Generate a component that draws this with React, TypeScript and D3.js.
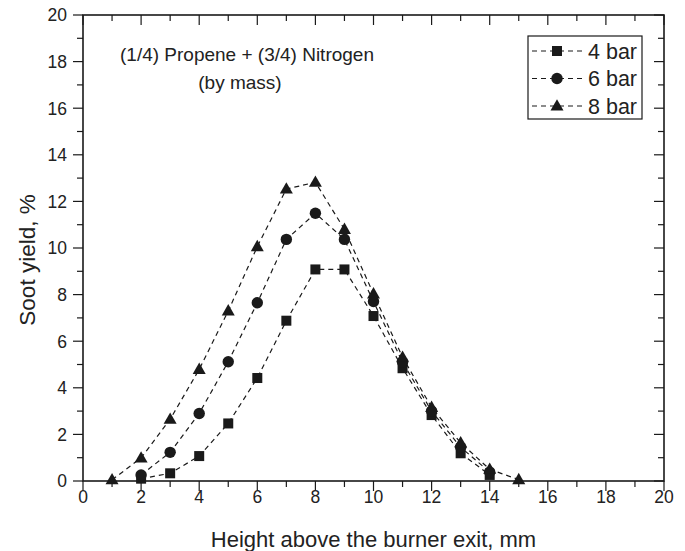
import React from "react";
import * as d3 from "d3";

const xValues4 = [2, 3, 4, 5, 6, 7, 8, 9, 10, 11, 12, 13, 14];
const yield4bar = [0.1, 0.33, 1.07, 2.47, 4.42, 6.88, 9.08, 9.08, 7.08, 4.84, 2.83, 1.19, 0.26];
const xValues6 = [2, 3, 4, 5, 6, 7, 8, 9, 10, 11, 12, 13, 14];
const yield6bar = [0.26, 1.23, 2.9, 5.12, 7.65, 10.37, 11.49, 10.37, 7.7, 5.1, 3.0, 1.45, 0.38];
const xValues8 = [1, 2, 3, 4, 5, 6, 7, 8, 9, 10, 11, 12, 13, 14, 15];
const yield8bar = [0.05, 0.99, 2.65, 4.79, 7.3, 10.06, 12.53, 12.82, 10.8, 8.03, 5.31, 3.16, 1.64, 0.5, 0.06];
const seriesNames = ["4 bar", "6 bar", "8 bar"];
const seriesSymbols = ["square", "circle", "triangle"];
const xTicks = [0, 2, 4, 6, 8, 10, 12, 14, 16, 18, 20];
const yTicks = [0, 2, 4, 6, 8, 10, 12, 14, 16, 18, 20];
const minorTicks = d3.range(0, 21, 1);

const W = 685, H = 551;
const L = 83, R = 664, T = 15, B = 481;
const FONT = "Liberation Sans, Arial, sans-serif";

function Marker({ type, x, y }: { type: string; x: number; y: number }) {
  if (type === "square") return <rect x={x - 5} y={y - 5} width={10} height={10} fill="#1a1a1a" />;
  if (type === "circle") return <circle cx={x} cy={y} r={5.7} fill="#1a1a1a" />;
  const s = 13;
  const h = s * 0.87;
  return (
    <path
      d={`M${x},${y - h * 0.6}L${x + s / 2},${y + h * 0.4}L${x - s / 2},${y + h * 0.4}Z`}
      fill="#1a1a1a"
    />
  );
}

export default function App() {
  const x = d3.scaleLinear().domain([0, 20]).range([L, R]);
  const y = d3.scaleLinear().domain([0, 20]).range([B, T]);
  const line = d3
    .line<[number, number]>()
    .x((d) => x(d[0]))
    .y((d) => y(d[1]));
  const series = [
    { xs: xValues4, ys: yield4bar },
    { xs: xValues6, ys: yield6bar },
    { xs: xValues8, ys: yield8bar },
  ].map((s, i) => ({
    name: seriesNames[i],
    sym: seriesSymbols[i],
    pts: s.xs.map((v, j) => [v, s.ys[j]] as [number, number]),
  }));
  const stroke = "#1a1a1a";
  return (
    <svg width={W} height={H} style={{ position: "absolute", left: 0, top: 0, background: "#fff" }}>
      <rect x={0} y={0} width={W} height={H} fill="#fff" />
      {minorTicks.map((t) => (
        <g key={"m" + t} stroke={stroke} strokeWidth={1.2}>
          <line x1={x(t)} x2={x(t)} y1={B} y2={B + (t % 2 === 0 ? 10 : 6)} />
          <line x1={x(t)} x2={x(t)} y1={T} y2={T + (t % 2 === 0 ? 10 : 6)} />
          <line x1={L} x2={L - (t % 2 === 0 ? 10 : 6)} y1={y(t)} y2={y(t)} />
          <line x1={R} x2={R - (t % 2 === 0 ? 10 : 6)} y1={y(t)} y2={y(t)} />
        </g>
      ))}
      <rect x={L} y={T} width={R - L} height={B - T} fill="none" stroke={stroke} strokeWidth={1.6} />
      {xTicks.map((t) => (
        <text key={"xt" + t} x={x(t)} y={503} textAnchor="middle" fontFamily={FONT} fontSize={17.5} fill="#222">
          {t}
        </text>
      ))}
      {yTicks.map((t) => (
        <text key={"yt" + t} x={67} y={y(t) + 6.3} textAnchor="end" fontFamily={FONT} fontSize={17.5} fill="#222">
          {t}
        </text>
      ))}
      <text x={(L + R) / 2} y={547} textAnchor="middle" fontFamily={FONT} fontSize={22} fill="#222">
        Height above the burner exit, mm
      </text>
      <text
        transform={`translate(35, ${(T + B) / 2 + 12}) rotate(-90)`}
        textAnchor="middle"
        fontFamily={FONT}
        fontSize={22.5}
        fill="#222"
      >
        Soot yield, %
      </text>
      {series.map((s) => (
        <path
          key={"l" + s.name}
          d={line(s.pts) || ""}
          fill="none"
          stroke={stroke}
          strokeWidth={1.2}
          strokeDasharray="5,4"
        />
      ))}
      {series.map((s) =>
        s.pts.map((p, j) => <Marker key={s.name + j} type={s.sym} x={x(p[0])} y={y(p[1])} />)
      )}
      <text x={120} y={61} textAnchor="start" fontFamily={FONT} fontSize={19} fill="#222">
        (1/4) Propene + (3/4) Nitrogen
      </text>
      <text x={240} y={89} textAnchor="middle" fontFamily={FONT} fontSize={19} fill="#222">
        (by mass)
      </text>
      <rect x={528} y={36} width={114} height={83} fill="#fff" stroke={stroke} strokeWidth={1.2} />
      {series.map((s, i) => {
        const ly = 51 + i * 27.5;
        return (
          <g key={"lg" + s.name}>
            <line x1={532} x2={584} y1={ly} y2={ly} stroke={stroke} strokeWidth={1.2} strokeDasharray="5,4" />
            <Marker type={s.sym} x={557} y={ly} />
            <text x={588} y={ly + 7.5} fontFamily={FONT} fontSize={21.5} fill="#222">
              {s.name}
            </text>
          </g>
        );
      })}
    </svg>
  );
}
